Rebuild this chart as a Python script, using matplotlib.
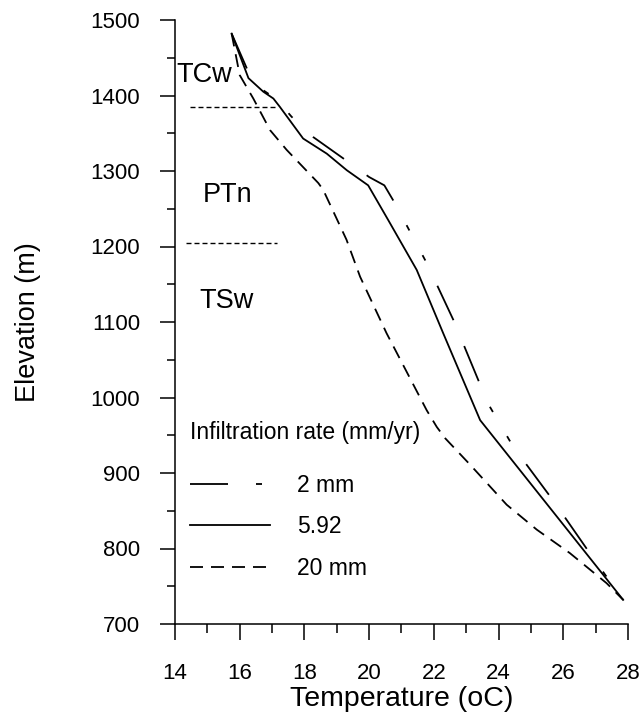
import matplotlib
matplotlib.use('Agg')
import matplotlib.pyplot as plt
from matplotlib.ticker import MultipleLocator

plt.rcParams['font.family'] = ['Liberation Sans', 'DejaVu Sans']
plt.rcParams['lines.scale_dashes'] = False

# --- data ---
t_2mm = [15.75, 16.3, 16.76, 17.14, 17.6, 18.27, 19.19, 20.0, 20.47, 20.8,
         21.78, 22.6, 23.48, 23.7, 24.45, 25.68, 26.93, 27.85]
e_2mm = [1482, 1428, 1406, 1395, 1372, 1345, 1317, 1292, 1281, 1257,
         1178, 1103, 1012, 990, 935, 864, 787, 732]

t_592 = [15.75, 16.27, 16.73, 17.04, 17.24, 17.96, 18.69, 19.31, 19.97,
         20.59, 21.47, 22.29, 23.43, 27.85]
e_592 = [1482, 1423, 1405, 1396, 1385, 1343, 1323, 1301, 1281,
         1235, 1169, 1085, 970, 732]

t_20mm = [15.75, 16.0, 16.42, 16.94, 17.45, 18.43, 18.58, 19.3, 19.72, 20.54,
          21.78, 22.09, 22.35, 23.12, 24.25, 25.18, 26.2, 27.34, 27.85]
e_20mm = [1482, 1427, 1396, 1354, 1328, 1284, 1275, 1209, 1160, 1085,
          983, 961, 946, 911, 858, 825, 794, 754, 732]

series_labels = ['2 mm', '5.92', '20 mm']

# unit boundaries (elevation, temperature span) and unit names
bound_elev = [1385, 1204]
bound_x0 = [14.46, 14.34]
bound_x1 = [17.18, 17.16]
unit_names = ['TCw', 'PTn', 'TSw']
unit_x = [14.03, 14.87, 14.74]
unit_y = [1418, 1259, 1119]

px = 72 / 100  # pixel -> point at dpi 100

fig = plt.figure(figsize=(6.43, 7.17), dpi=100)
ax = fig.add_axes([175 / 643, 93 / 717, 453 / 643, 604 / 717])

lw = 1.3
l1, = ax.plot(t_2mm, e_2mm, color='black', lw=lw, label=series_labels[0],
              dashes=[38 * px, 28 * px, 6 * px, 28 * px, 6 * px, 28 * px, 38 * px, 28 * px])
l2, = ax.plot(t_592, e_592, color='black', lw=lw, label=series_labels[1])
l3, = ax.plot(t_20mm, e_20mm, color='black', lw=lw, label=series_labels[2],
              dashes=[13 * px, 8 * px])

for e, x0, x1 in zip(bound_elev, bound_x0, bound_x1):
    ax.plot([x0, x1], [e, e], color='black', lw=1.0, dashes=[5 * px, 3 * px])

for name, x, y in zip(unit_names, unit_x, unit_y):
    ax.text(x, y, name, fontsize=19.5, ha='left', va='baseline')

# legend
ax.text(15 / 453, (624 - 433) / 604, 'Infiltration rate (mm/yr)', transform=ax.transAxes,
        fontsize=16.5, ha='left', va='center')
ax.legend(handles=[l1, l2, l3], loc='upper left', bbox_to_anchor=(15 / 453, (624 - 474) / 604),
          frameon=False, fontsize=16.5, handlelength=3.49, handletextpad=1.18,
          labelspacing=0.8, borderpad=0, borderaxespad=0)

ax.set_xlim(14, 28)
ax.set_ylim(700, 1500)
ax.xaxis.set_major_locator(MultipleLocator(2))
ax.xaxis.set_minor_locator(MultipleLocator(1))
ax.yaxis.set_major_locator(MultipleLocator(100))
ax.yaxis.set_minor_locator(MultipleLocator(50))

for s in ['top', 'right']:
    ax.spines[s].set_visible(False)
for s in ['left', 'bottom']:
    ax.spines[s].set_linewidth(1.1)

ax.tick_params(axis='both', which='both', direction='out', width=1.1, labelsize=16)
ax.tick_params(axis='y', which='major', length=10.8, pad=14.4)
ax.tick_params(axis='y', which='minor', length=5.8)
ax.tick_params(axis='x', which='major', length=11.5, pad=16.5)
ax.tick_params(axis='x', which='minor', length=6.5)

ax.set_xlabel('Temperature (oC)', fontsize=20.5, va='center')
ax.xaxis.set_label_coords(0.5, (624 - 699) / 604)
ax.set_ylabel('Elevation (m)', fontsize=19.5, va='center')
ax.yaxis.set_label_coords((28 - 175) / 453, 0.5)

plt.savefig('out.png', dpi=100)
